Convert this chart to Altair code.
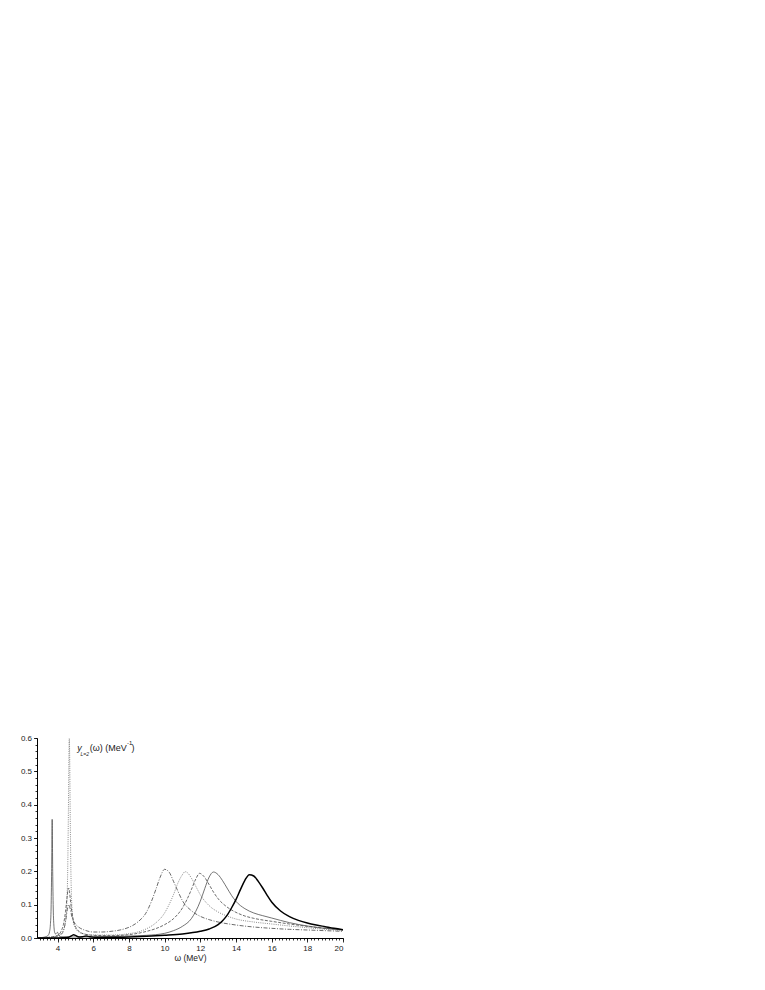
import altair as alt
import pandas as pd

# ---- data (omega in MeV, strength in MeV^-1) ----
a_w = [2.9, 3.5, 4.0, 4.2, 4.35, 4.45, 4.55, 4.62, 4.7, 4.8, 4.9, 5.0, 5.2, 5.5, 6.0, 6.5, 7.0, 7.5, 8.0, 8.5,
       9.0, 9.25, 9.5, 9.75, 10.0, 10.25, 10.5, 10.75, 11.0, 11.5, 12.0, 12.5, 13.0, 14.0, 15.0, 16.0, 17.0, 18.0, 19.0, 20.0]
a_v = [0.0, 0.001, 0.004, 0.01, 0.025, 0.05, 0.085, 0.1, 0.09, 0.065, 0.05, 0.042, 0.032, 0.024, 0.018, 0.018, 0.02, 0.024, 0.032, 0.048,
       0.079, 0.108, 0.144, 0.182, 0.206, 0.198, 0.17, 0.14, 0.112, 0.082, 0.065, 0.055, 0.048, 0.039, 0.033, 0.029, 0.026, 0.024, 0.022, 0.02]

b_w = [2.9, 3.5, 4.0, 4.3, 4.45, 4.52, 4.57, 4.61, 4.64, 4.66, 4.68, 4.71, 4.75, 4.8, 4.88, 5.0, 5.2, 5.5, 6.0, 7.0,
       8.0, 8.5, 9.0, 9.5, 10.0, 10.25, 10.5, 10.75, 11.0, 11.15, 11.3, 11.5, 11.75, 12.0, 12.5, 13.0, 13.5, 14.0, 15.0, 16.0,
       17.0, 18.0, 19.0, 20.0]
b_v = [0.0, 0.002, 0.006, 0.02, 0.05, 0.1, 0.2, 0.38, 0.55, 0.6, 0.55, 0.38, 0.2, 0.1, 0.05, 0.03, 0.018, 0.012, 0.009, 0.009,
       0.013, 0.018, 0.028, 0.045, 0.075, 0.1, 0.13, 0.165, 0.19, 0.199, 0.195, 0.18, 0.155, 0.13, 0.097, 0.078, 0.066, 0.057, 0.048, 0.042,
       0.036, 0.031, 0.026, 0.023]

c_w = [2.9, 3.5, 4.0, 4.2, 4.35, 4.45, 4.53, 4.58, 4.62, 4.67, 4.72, 4.8, 4.9, 5.0, 5.2, 5.5, 6.0, 7.0, 8.0, 9.0,
       9.5, 10.0, 10.5, 11.0, 11.25, 11.5, 11.75, 11.96, 12.2, 12.5, 12.75, 13.0, 13.5, 14.0, 14.5, 15.0, 16.0, 17.0, 18.0, 19.0, 20.0]
c_v = [0.0, 0.002, 0.008, 0.02, 0.045, 0.08, 0.12, 0.142, 0.15, 0.14, 0.115, 0.08, 0.05, 0.035, 0.02, 0.012, 0.008, 0.007, 0.01, 0.02,
       0.028, 0.04, 0.058, 0.09, 0.115, 0.145, 0.177, 0.194, 0.185, 0.16, 0.137, 0.118, 0.093, 0.077, 0.066, 0.059, 0.05, 0.042, 0.035, 0.029, 0.025]

d_w = [2.9, 3.2, 3.4, 3.5, 3.55, 3.6, 3.64, 3.67, 3.70, 3.73, 3.76, 3.8, 3.85, 3.9, 3.95, 4.0, 4.05, 4.1, 4.2, 4.5,
       5.0, 6.0, 7.0, 8.0, 9.0, 10.0, 10.5, 11.0, 11.5, 12.0, 12.25, 12.5, 12.74, 13.0, 13.25, 13.5, 13.75, 14.0, 14.5, 15.0,
       15.5, 16.0, 17.0, 18.0, 19.0, 20.0]
d_v = [0.0, 0.002, 0.005, 0.01, 0.018, 0.04, 0.09, 0.2, 0.356, 0.2, 0.09, 0.035, 0.015, 0.012, 0.015, 0.017, 0.012, 0.006, 0.004, 0.003,
       0.003, 0.003, 0.004, 0.006, 0.008, 0.014, 0.022, 0.035, 0.058, 0.11, 0.148, 0.183, 0.198, 0.19, 0.172, 0.15, 0.128, 0.11, 0.088, 0.075,
       0.067, 0.06, 0.046, 0.036, 0.029, 0.024]

e_w = [2.9, 4.0, 4.6, 4.8, 4.9, 5.0, 5.2, 5.4, 5.6, 5.8, 6.2, 7.0, 8.0, 9.0, 10.0, 11.0, 12.0, 12.5, 13.0, 13.25,
       13.5, 13.75, 14.0, 14.25, 14.5, 14.75, 15.0, 15.25, 15.5, 15.75, 16.0, 16.5, 17.0, 17.5, 18.0, 18.5, 19.0, 19.5, 20.0]
e_v = [0.0, 0.0, 0.002, 0.007, 0.01, 0.008, 0.003, 0.004, 0.006, 0.004, 0.002, 0.002, 0.003, 0.005, 0.008, 0.012, 0.02, 0.027, 0.04, 0.052,
       0.068, 0.09, 0.115, 0.145, 0.173, 0.19, 0.186, 0.17, 0.15, 0.128, 0.108, 0.081, 0.064, 0.053, 0.045, 0.039, 0.034, 0.029, 0.025]

x_major = [4, 6, 8, 10, 12, 14, 16, 18, 20]
x_minor = [round(3.0 + 0.2 * i, 1) for i in range(86)]
y_major = [0.0, 0.1, 0.2, 0.3, 0.4, 0.5, 0.6]
y_minor = [round(0.02 * i, 2) for i in range(31)]

# annotation pieces: text, omega, value, size, style
lab_text = ["y", "L=2", "(ω) (MeV", "-1", ")"]
lab_w = [5.11, 5.29, 5.80, 7.90, 8.14]
lab_v = [0.570, 0.553, 0.570, 0.586, 0.570]
lab_size = [9, 5, 9, 6, 9]
lab_style = ["italic", "italic", "normal", "normal", "normal"]

FONT = "Liberation Sans"
xs = alt.Scale(domain=[2.85, 20], nice=False, zero=False)
ys = alt.Scale(domain=[0, 0.6], nice=False, zero=True)


def df(w, v):
    return pd.DataFrame({"w": w, "v": v})


def line(w, v, color, width, dash=None, xaxis=None, yaxis=None):
    kw = dict(color=color, strokeWidth=width, interpolate="monotone", clip=True)
    if dash is not None:
        kw["strokeDash"] = dash
    return alt.Chart(df(w, v)).mark_line(**kw).encode(
        x=alt.X("w:Q", scale=xs, axis=xaxis),
        y=alt.Y("v:Q", scale=ys, axis=yaxis),
    )


x_minor_axis = alt.Axis(values=x_minor, labels=False, tickSize=2, tickWidth=0.8, tickColor="black",
                        domain=True, domainColor="black", domainWidth=1, grid=False, title=None, orient="bottom")
x_major_axis = alt.Axis(values=x_major, format="d", labelFontSize=8, labelFont=FONT, labelColor="#222",
                        tickSize=4, tickWidth=0.8, tickColor="black", domain=False, grid=False,
                        labelPadding=2, title="ω (MeV)", titleFont=FONT, titleFontSize=8.5,
                        titleFontWeight="normal", titleColor="#222", titlePadding=1, orient="bottom")
y_minor_axis = alt.Axis(values=y_minor, labels=False, tickSize=2, tickWidth=0.8, tickColor="black",
                        domain=True, domainColor="black", domainWidth=1, grid=False, title=None, orient="left")
y_major_axis = alt.Axis(values=y_major, format=".1f", labelFontSize=8, labelFont=FONT, labelColor="#222",
                        tickSize=3.5, tickWidth=0.8, tickColor="black", domain=False, grid=False,
                        labelPadding=2, title=None, orient="left")

lA = line(a_w, a_v, "#3a3a3a", 0.75, [4, 1.5, 1, 1.5], x_minor_axis, y_minor_axis)
lB = line(b_w, b_v, "#666666", 0.75, [1, 1.2], x_major_axis, y_major_axis)
lC = line(c_w, c_v, "#3a3a3a", 0.75, [3, 1.5])
lD = line(d_w, d_v, "#444444", 0.75)
lE = line(e_w, e_v, "#000000", 1.5)

labels_df = pd.DataFrame({"t": lab_text, "w": lab_w, "v": lab_v, "s": lab_size, "st": lab_style})
texts = []
for i in range(len(lab_text)):
    texts.append(
        alt.Chart(labels_df.iloc[[i]]).mark_text(
            align="left", baseline="middle", font=FONT, fontSize=lab_size[i],
            fontStyle=lab_style[i], color="#222"
        ).encode(
            x=alt.X("w:Q", scale=xs, axis=None),
            y=alt.Y("v:Q", scale=ys, axis=None),
            text="t:N",
        )
    )

chart = alt.layer(lA, lB, lC, lD, lE, *texts).resolve_axis(
    x="independent", y="independent"
).properties(
    width=306, height=200,
    autosize=alt.AutoSizeParams(type="none"),
    padding={"left": 29, "top": 730, "right": 20, "bottom": 30},
).configure_view(stroke=None)

chart.save("out.html", embed_options={"renderer": "svg", "actions": False})
